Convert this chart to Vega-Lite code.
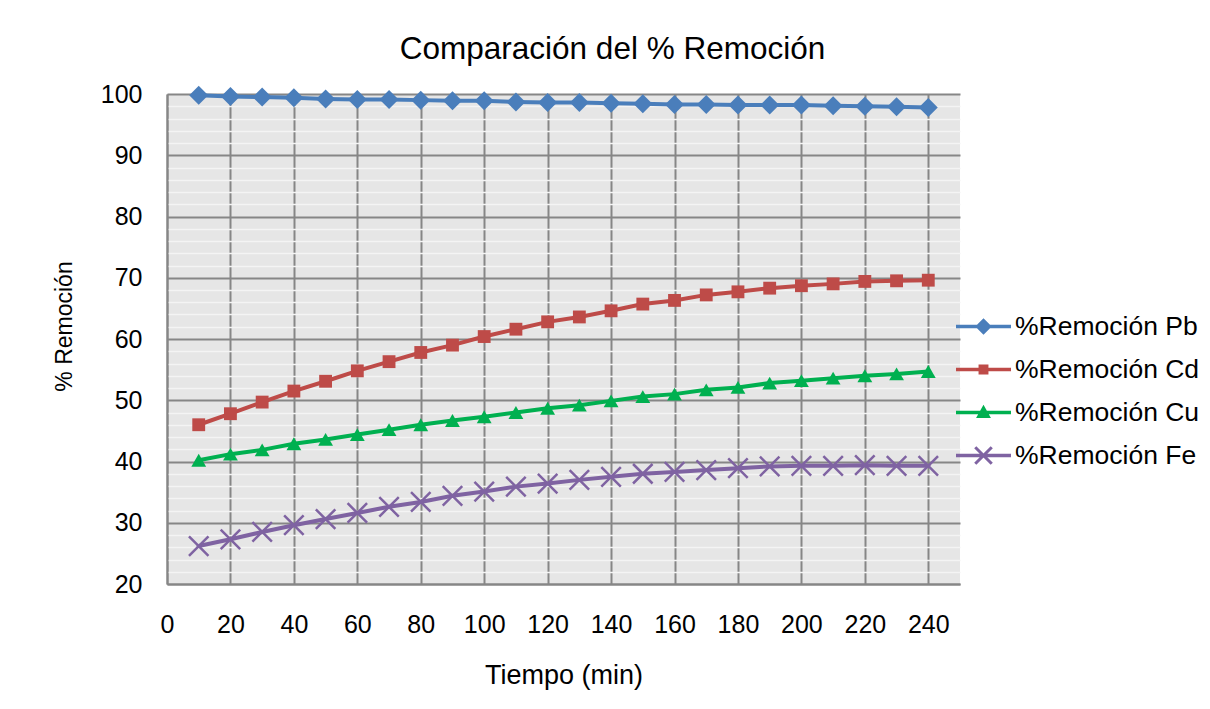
{
  "$schema": "https://vega.github.io/schema/vega-lite/v6.json",
  "width": 793,
  "height": 490,
  "autosize": {"type": "none"},
  "padding": {"left": 167, "top": 94, "right": 250, "bottom": 125},
  "background": "white",
  "config": {"font": "Liberation Sans", "view": {"fill": "#E6E6E6", "stroke": null}},
  "title": {"text": "Comparación del % Remoción", "fontSize": 31.5, "fontWeight": "normal", "font": "Liberation Sans", "color": "black", "anchor": "middle", "frame": "group", "dx": 49, "baseline": "alphabetic", "offset": -8},
  "data": {"values": [
    {"t": 10, "serie": "%Remoción Pb", "v": 99.8}, {"t": 20, "serie": "%Remoción Pb", "v": 99.6}, {"t": 30, "serie": "%Remoción Pb", "v": 99.5}, {"t": 40, "serie": "%Remoción Pb", "v": 99.4}, {"t": 50, "serie": "%Remoción Pb", "v": 99.2}, {"t": 60, "serie": "%Remoción Pb", "v": 99.1}, {"t": 70, "serie": "%Remoción Pb", "v": 99.1}, {"t": 80, "serie": "%Remoción Pb", "v": 99.0}, {"t": 90, "serie": "%Remoción Pb", "v": 98.9}, {"t": 100, "serie": "%Remoción Pb", "v": 98.9}, {"t": 110, "serie": "%Remoción Pb", "v": 98.7}, {"t": 120, "serie": "%Remoción Pb", "v": 98.6},
    {"t": 130, "serie": "%Remoción Pb", "v": 98.6}, {"t": 140, "serie": "%Remoción Pb", "v": 98.5}, {"t": 150, "serie": "%Remoción Pb", "v": 98.4}, {"t": 160, "serie": "%Remoción Pb", "v": 98.3}, {"t": 170, "serie": "%Remoción Pb", "v": 98.3}, {"t": 180, "serie": "%Remoción Pb", "v": 98.2}, {"t": 190, "serie": "%Remoción Pb", "v": 98.2}, {"t": 200, "serie": "%Remoción Pb", "v": 98.2}, {"t": 210, "serie": "%Remoción Pb", "v": 98.1}, {"t": 220, "serie": "%Remoción Pb", "v": 98.0}, {"t": 230, "serie": "%Remoción Pb", "v": 97.9}, {"t": 240, "serie": "%Remoción Pb", "v": 97.8},
    {"t": 10, "serie": "%Remoción Cd", "v": 46.0}, {"t": 20, "serie": "%Remoción Cd", "v": 47.8}, {"t": 30, "serie": "%Remoción Cd", "v": 49.7}, {"t": 40, "serie": "%Remoción Cd", "v": 51.5}, {"t": 50, "serie": "%Remoción Cd", "v": 53.1}, {"t": 60, "serie": "%Remoción Cd", "v": 54.8}, {"t": 70, "serie": "%Remoción Cd", "v": 56.3}, {"t": 80, "serie": "%Remoción Cd", "v": 57.8}, {"t": 90, "serie": "%Remoción Cd", "v": 59.0}, {"t": 100, "serie": "%Remoción Cd", "v": 60.4}, {"t": 110, "serie": "%Remoción Cd", "v": 61.6}, {"t": 120, "serie": "%Remoción Cd", "v": 62.8},
    {"t": 130, "serie": "%Remoción Cd", "v": 63.6}, {"t": 140, "serie": "%Remoción Cd", "v": 64.6}, {"t": 150, "serie": "%Remoción Cd", "v": 65.7}, {"t": 160, "serie": "%Remoción Cd", "v": 66.3}, {"t": 170, "serie": "%Remoción Cd", "v": 67.2}, {"t": 180, "serie": "%Remoción Cd", "v": 67.7}, {"t": 190, "serie": "%Remoción Cd", "v": 68.3}, {"t": 200, "serie": "%Remoción Cd", "v": 68.7}, {"t": 210, "serie": "%Remoción Cd", "v": 69.0}, {"t": 220, "serie": "%Remoción Cd", "v": 69.4}, {"t": 230, "serie": "%Remoción Cd", "v": 69.5}, {"t": 240, "serie": "%Remoción Cd", "v": 69.6},
    {"t": 10, "serie": "%Remoción Cu", "v": 40.2}, {"t": 20, "serie": "%Remoción Cu", "v": 41.2}, {"t": 30, "serie": "%Remoción Cu", "v": 41.9}, {"t": 40, "serie": "%Remoción Cu", "v": 42.9}, {"t": 50, "serie": "%Remoción Cu", "v": 43.6}, {"t": 60, "serie": "%Remoción Cu", "v": 44.4}, {"t": 70, "serie": "%Remoción Cu", "v": 45.2}, {"t": 80, "serie": "%Remoción Cu", "v": 46.0}, {"t": 90, "serie": "%Remoción Cu", "v": 46.7}, {"t": 100, "serie": "%Remoción Cu", "v": 47.3}, {"t": 110, "serie": "%Remoción Cu", "v": 48.0}, {"t": 120, "serie": "%Remoción Cu", "v": 48.7},
    {"t": 130, "serie": "%Remoción Cu", "v": 49.2}, {"t": 140, "serie": "%Remoción Cu", "v": 49.9}, {"t": 150, "serie": "%Remoción Cu", "v": 50.6}, {"t": 160, "serie": "%Remoción Cu", "v": 51.0}, {"t": 170, "serie": "%Remoción Cu", "v": 51.7}, {"t": 180, "serie": "%Remoción Cu", "v": 52.1}, {"t": 190, "serie": "%Remoción Cu", "v": 52.8}, {"t": 200, "serie": "%Remoción Cu", "v": 53.2}, {"t": 210, "serie": "%Remoción Cu", "v": 53.6}, {"t": 220, "serie": "%Remoción Cu", "v": 54.0}, {"t": 230, "serie": "%Remoción Cu", "v": 54.3}, {"t": 240, "serie": "%Remoción Cu", "v": 54.7},
    {"t": 10, "serie": "%Remoción Fe", "v": 26.2}, {"t": 20, "serie": "%Remoción Fe", "v": 27.3}, {"t": 30, "serie": "%Remoción Fe", "v": 28.5}, {"t": 40, "serie": "%Remoción Fe", "v": 29.6}, {"t": 50, "serie": "%Remoción Fe", "v": 30.6}, {"t": 60, "serie": "%Remoción Fe", "v": 31.6}, {"t": 70, "serie": "%Remoción Fe", "v": 32.6}, {"t": 80, "serie": "%Remoción Fe", "v": 33.4}, {"t": 90, "serie": "%Remoción Fe", "v": 34.4}, {"t": 100, "serie": "%Remoción Fe", "v": 35.1}, {"t": 110, "serie": "%Remoción Fe", "v": 35.9}, {"t": 120, "serie": "%Remoción Fe", "v": 36.4},
    {"t": 130, "serie": "%Remoción Fe", "v": 37.0}, {"t": 140, "serie": "%Remoción Fe", "v": 37.5}, {"t": 150, "serie": "%Remoción Fe", "v": 38.0}, {"t": 160, "serie": "%Remoción Fe", "v": 38.3}, {"t": 170, "serie": "%Remoción Fe", "v": 38.6}, {"t": 180, "serie": "%Remoción Fe", "v": 38.9}, {"t": 190, "serie": "%Remoción Fe", "v": 39.2}, {"t": 200, "serie": "%Remoción Fe", "v": 39.3}, {"t": 210, "serie": "%Remoción Fe", "v": 39.3}, {"t": 220, "serie": "%Remoción Fe", "v": 39.4}, {"t": 230, "serie": "%Remoción Fe", "v": 39.3}, {"t": 240, "serie": "%Remoción Fe", "v": 39.3}
  ]},
  "encoding": {
    "x": {"field": "t", "type": "quantitative", "scale": {"domain": [0, 250], "nice": false, "zero": false},
      "axis": {"values": [0, 20, 40, 60, 80, 100, 120, 140, 160, 180, 200, 220, 240], "labelFontSize": 25, "labelColor": "black", "labelPadding": 28, "labelFlush": false, "labelOverlap": false, "ticks": false, "tickSize": 0, "domainColor": "#868686", "domainWidth": 2, "grid": true, "gridColor": "#868686", "gridWidth": 2, "gridOpacity": 1, "title": "Tiempo (min)", "titleFontSize": 27, "titleFontWeight": "normal", "titleColor": "black", "titleBaseline": "alphabetic", "titleY": 99}},
    "y": {"field": "v", "type": "quantitative", "scale": {"domain": [20, 100], "nice": false, "zero": false},
      "axis": {"values": [20, 22, 24, 26, 28, 30, 32, 34, 36, 38, 40, 42, 44, 46, 48, 50, 52, 54, 56, 58, 60, 62, 64, 66, 68, 70, 72, 74, 76, 78, 80, 82, 84, 86, 88, 90, 92, 94, 96, 98, 100],
        "labelExpr": "datum.value % 10 === 0 ? datum.label : ''", "labelFontSize": 25, "labelColor": "black", "labelPadding": 25, "labelFlush": false, "labelOverlap": false, "ticks": false, "tickSize": 0, "domainColor": "#868686", "domainWidth": 2, "grid": true, "gridOpacity": 1,
        "gridColor": {"condition": {"test": "datum.value % 10 === 0", "value": "#868686"}, "value": "#F4F4F4"},
        "gridWidth": {"condition": {"test": "datum.value % 10 === 0", "value": 2}, "value": 1.3},
        "title": "% Remoción", "titleFontSize": 23, "titleFontWeight": "normal", "titleColor": "black", "titleAngle": -90, "titleAlign": "center", "titleBaseline": "middle", "titleX": -103, "titleY": 232}}
  },
  "layer": [
    {"mark": {"type": "line", "strokeWidth": 4},
      "encoding": {"color": {"field": "serie", "type": "nominal", "scale": {"domain": ["%Remoción Pb", "%Remoción Cd", "%Remoción Cu", "%Remoción Fe"], "range": ["#4A7EBB", "#BE4B48", "#00B050", "#7F63A2"]},
          "legend": {"orient": "none", "legendX": 789, "legendY": 205, "title": null, "symbolSize": 3025, "symbolStrokeWidth": 0, "symbolOpacity": 1, "labelFontSize": 26.5, "labelColor": "black", "labelFont": "Liberation Sans", "labelOffset": 4, "rowPadding": 2, "padding": 0, "labelLimit": 300}},
        "shape": {"field": "serie", "type": "nominal", "scale": {"domain": ["%Remoción Pb", "%Remoción Cd", "%Remoción Cu", "%Remoción Fe"], "range": [
          "M-1,-0.064L1,-0.064L1,0.064L-1,0.064ZM0,-0.3L0.3,0L0,0.3L-0.3,0Z",
          "M-1,-0.064L1,-0.064L1,0.064L-1,0.064ZM-0.18,-0.18L0.18,-0.18L0.18,0.18L-0.18,0.18Z",
          "M-1,-0.064L1,-0.064L1,0.064L-1,0.064ZM0,-0.28L0.27,0.2L-0.27,0.2Z",
          "M-1,-0.064L1,-0.064L1,0.064L-1,0.064ZM-0.261,-0.339L0.339,0.261L0.261,0.339L-0.339,-0.261ZM-0.339,0.261L0.261,-0.339L0.339,-0.261L-0.261,0.339Z"
        ]},
          "legend": {"orient": "none", "legendX": 789, "legendY": 205, "title": null, "symbolSize": 3025, "symbolStrokeWidth": 0, "symbolOpacity": 1, "labelFontSize": 26.5, "labelColor": "black", "labelFont": "Liberation Sans", "labelOffset": 4, "rowPadding": 2, "padding": 0, "labelLimit": 300}}}},
    {"transform": [{"filter": "datum.serie === '%Remoción Pb'"}], "mark": {"type": "point", "shape": "diamond", "filled": true, "size": 361, "opacity": 1}, "encoding": {"color": {"field": "serie", "type": "nominal", "legend": null}}},
    {"transform": [{"filter": "datum.serie === '%Remoción Cd'"}], "mark": {"type": "point", "shape": "square", "filled": true, "size": 165, "opacity": 1}, "encoding": {"color": {"field": "serie", "type": "nominal", "legend": null}}},
    {"transform": [{"filter": "datum.serie === '%Remoción Cu'"}], "mark": {"type": "point", "shape": "triangle-up", "filled": true, "size": 220, "opacity": 1}, "encoding": {"color": {"field": "serie", "type": "nominal", "legend": null}}},
    {"transform": [{"filter": "datum.serie === '%Remoción Fe'"}], "mark": {"type": "point", "shape": "M-1,-1L1,1M-1,1L1,-1", "filled": false, "size": 380, "strokeWidth": 2.5, "opacity": 1}, "encoding": {"color": {"field": "serie", "type": "nominal", "legend": null}}}
  ]
}
